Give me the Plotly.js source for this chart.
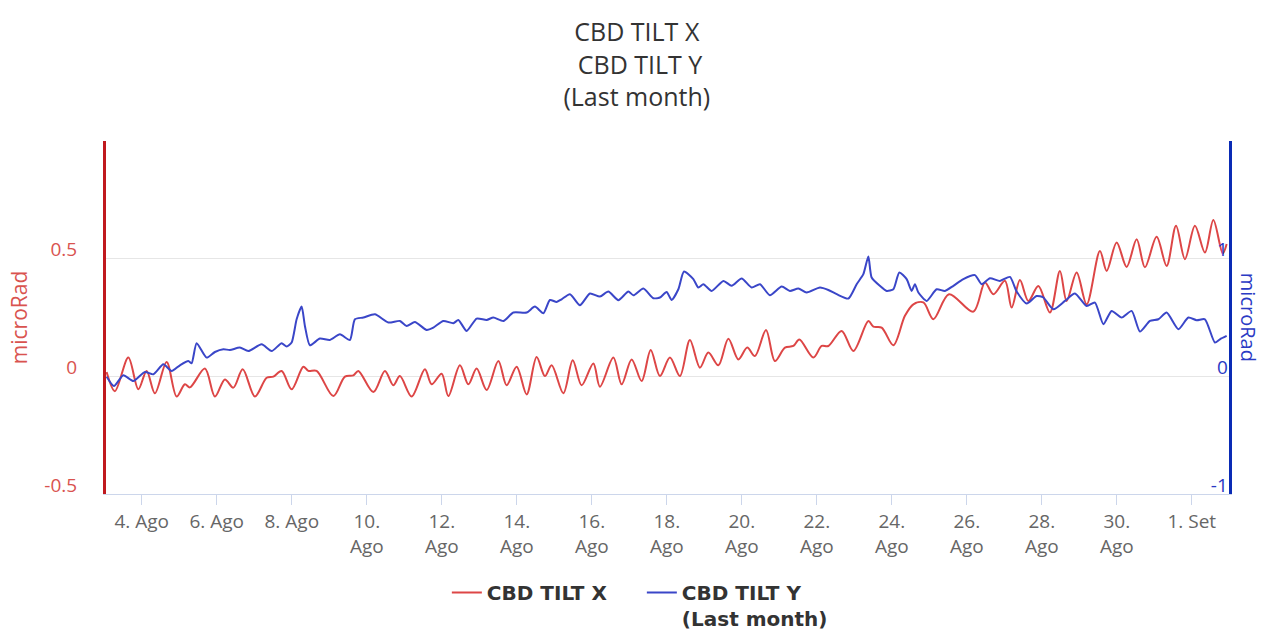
<!DOCTYPE html>
<html>
<head>
<meta charset="utf-8">
<script src="https://cdn.plot.ly/plotly-3.0.1.min.js"></script>
<style>html,body{margin:0;padding:0;background:#fff;}#chart{width:1261px;height:631px;}</style>
</head>
<body>
<div id="chart"></div>
<script>
// Time of each reading, hours after 3 Aug 00:00
const tiltXHours = [1.5,6.8,15.4,21.8,27.1,32.4,39.9,46.3,51.6,54.8,64.4,70.8,77.2,82.6,88.6,96.4,103.9,108.2,113.5,119.9,127.4,130.6,135.9,146.6,154.0,159.4,162.6,172.2,179.6,185.0,189.2,196.7,205.2,209.5,215.9,220.2,227.6,233.0,238.3,244.7,252.2,257.5,263.9,270.3,276.7,282.0,286.3,293.8,299.8,305.5,313.0,317.2,325.8,331.1,337.5,343.9,349.7,355.6,362.0,368.4,374.8,381.2,386.6,393.0,399.4,405.8,411.5,416.4,423.5,429.2,435.6,441.0,444.8,453.8,459.1,463.4,471.9,479.4,489.0,492.2,497.5,505.0,512.4,517.8,524.2,530.6,540.6,556.2,563.6,569.0,576.4,580.7,586.0,591.4,597.8,605.2,611.6,615.9,622.3,628.7,637.2,641.5,647.9,654.3,660.7,666.0,673.5,679.9,685.9,691.6,698.0,704.4,709.8,715.8,718.3];
const tiltXValues = [0.018,-0.063,0.080,-0.055,0.023,-0.072,0.061,-0.086,-0.034,-0.047,0.033,-0.086,-0.013,-0.048,0.030,-0.086,-0.006,-0.001,0.023,-0.055,0.041,0.023,0.023,-0.084,-0.001,0.004,0.023,-0.067,0.023,-0.038,0.001,-0.086,0.030,-0.034,0.011,-0.084,0.047,-0.034,0.033,-0.058,0.065,-0.038,0.041,-0.077,0.082,0.001,0.047,-0.072,0.068,-0.038,0.055,-0.044,0.080,-0.034,0.072,-0.020,0.112,0.001,0.080,0.001,0.154,0.037,0.101,0.047,0.160,0.072,0.122,0.086,0.197,0.065,0.122,0.129,0.157,0.080,0.129,0.129,0.193,0.108,0.235,0.211,0.207,0.132,0.257,0.306,0.314,0.243,0.349,0.275,0.399,0.349,0.406,0.292,0.409,0.320,0.384,0.271,0.448,0.320,0.441,0.306,0.533,0.448,0.569,0.465,0.583,0.463,0.593,0.469,0.640,0.498,0.640,0.526,0.664,0.522,0.562];

const tiltYHours = [1.5,6.2,12.2,18.6,26.0,31.4,37.8,43.1,48.4,53.8,55.9,59.1,65.5,70.8,76.2,80.4,86.8,92.2,100.7,107.1,113.5,116.7,119.9,123.1,126.3,128.4,131.6,138.0,144.4,150.8,157.2,160.4,165.8,173.2,181.8,189.2,193.5,198.8,206.3,210.6,217.0,223.4,226.6,231.9,238.3,244.7,249.0,255.4,261.8,270.3,275.6,281.0,285.2,289.5,292.7,298.0,304.4,310.8,317.2,322.6,329.0,335.4,338.6,345.0,351.4,355.6,359.9,363.1,367.4,371.0,377.0,380.2,383.4,388.7,396.2,401.5,407.9,414.3,419.6,426.0,433.5,438.8,444.2,449.5,458.0,463.4,468.7,476.2,481.5,485.8,489.0,491.1,496.4,500.7,505.0,508.8,513.5,516.7,518.8,521.0,526.3,532.7,538.0,543.4,549.8,557.2,561.5,566.8,573.2,579.6,583.9,590.3,596.7,601.0,607.4,614.8,621.2,628.7,634.0,639.4,644.7,651.1,657.5,662.8,669.2,674.6,679.9,687.4,693.8,699.1,704.4,710.8,714.0,718.3];
const tiltYValues = [-0.003,-0.083,0.009,-0.040,0.037,0.017,0.102,0.045,0.094,0.130,0.111,0.281,0.159,0.207,0.230,0.224,0.244,0.215,0.272,0.215,0.281,0.253,0.287,0.485,0.593,0.428,0.264,0.321,0.309,0.357,0.309,0.485,0.500,0.528,0.457,0.471,0.428,0.462,0.394,0.414,0.471,0.451,0.479,0.386,0.491,0.479,0.500,0.471,0.542,0.542,0.593,0.536,0.649,0.632,0.655,0.698,0.604,0.704,0.678,0.721,0.647,0.721,0.689,0.746,0.664,0.670,0.717,0.649,0.740,0.891,0.826,0.755,0.783,0.726,0.811,0.769,0.831,0.755,0.783,0.689,0.763,0.726,0.746,0.712,0.755,0.734,0.698,0.661,0.783,0.868,1.019,0.840,0.769,0.726,0.740,0.883,0.826,0.726,0.783,0.712,0.641,0.740,0.726,0.769,0.826,0.860,0.783,0.834,0.811,0.845,0.721,0.619,0.683,0.670,0.570,0.641,0.704,0.598,0.627,0.443,0.556,0.500,0.556,0.380,0.471,0.485,0.542,0.400,0.500,0.477,0.485,0.287,0.315,0.343];

const tickDates = ['2023-08-04','2023-08-06','2023-08-08','2023-08-10','2023-08-12','2023-08-14','2023-08-16','2023-08-18','2023-08-20','2023-08-22','2023-08-24','2023-08-26','2023-08-28','2023-08-30','2023-09-01'];
const tickLabels = ['4. Ago','6. Ago','8. Ago','10.<br>Ago','12.<br>Ago','14.<br>Ago','16.<br>Ago','18.<br>Ago','20.<br>Ago','22.<br>Ago','24.<br>Ago','26.<br>Ago','28.<br>Ago','30.<br>Ago','1. Set'];

const leftTicks = [-0.5, 0, 0.5, 1];
const leftTickText = ['-0.5', '0', '0.5', ''];
const rightTicks = [-1, 0, 1, 2];
const rightTickText = ['-1', '0', '1', ''];

const BASE = Date.UTC(2023, 7, 3);
const toTime = h => new Date(BASE + h * 3600000).toISOString().replace('T', ' ').slice(0, 19);

const FONT = '"Open Sans", Arial, sans-serif';

const traces = [
  {
    x: tiltXHours.map(toTime), y: tiltXValues, name: 'CBD TILT X',
    type: 'scatter', mode: 'lines', yaxis: 'y',
    line: {color: '#dd4646', width: 2, shape: 'spline', smoothing: 0.9}
  },
  {
    x: tiltYHours.map(toTime), y: tiltYValues, name: 'CBD TILT Y<br>(Last month)',
    type: 'scatter', mode: 'lines', yaxis: 'y2',
    line: {color: '#3a46c8', width: 2, shape: 'spline', smoothing: 0.6}
  }
];

const layout = {
  width: 1261, height: 631,
  margin: {l: 106, r: 32, t: 141, b: 137},
  paper_bgcolor: '#ffffff', plot_bgcolor: '#ffffff',
  font: {family: FONT, color: '#666666', size: 19},
  showlegend: true,
  title: {
    text: 'CBD TILT X<br> CBD TILT Y<br>(Last month)',
    font: {family: FONT, size: 25, color: '#333333'},
    xref: 'container', x: 0.505, xanchor: 'center',
    yref: 'container', y: 0.935, yanchor: 'top'
  },
  xaxis: {
    type: 'date',
    range: [toTime(1.1), toTime(719.8)],
    tickmode: 'array', tickvals: tickDates, ticktext: tickLabels,
    showgrid: false, zeroline: false,
    showline: true, linecolor: '#ccd6eb', linewidth: 1,
    ticks: 'outside', ticklen: 10, tickcolor: '#ccd6eb', tickwidth: 1,
    tickfont: {family: FONT, size: 19, color: '#666666'}
  },
  yaxis: {
    range: [-0.5, 1.0],
    tickmode: 'array', tickvals: leftTicks, ticktext: leftTickText,
    showgrid: true, gridcolor: '#e6e6e6', gridwidth: 1, zeroline: false,
    showline: true, linecolor: '#c0191e', linewidth: 3,
    ticks: '', ticklabelstandoff: 22, ticklabelshift: -9,
    tickfont: {family: FONT, size: 19, color: '#d9534f'},
    title: {text: 'microRad', font: {family: FONT, size: 21, color: '#d9534f'}, standoff: 12}
  },
  yaxis2: {
    range: [-1, 2], overlaying: 'y', side: 'right',
    tickmode: 'array', tickvals: rightTicks, ticktext: rightTickText,
    showgrid: false, zeroline: false,
    showline: true, linecolor: '#0a2bb5', linewidth: 3,
    ticks: '', ticklabelposition: 'inside', ticklabelshift: -9, ticklabelstandoff: 2,
    ticklabeloverflow: 'allow',
    tickfont: {family: FONT, size: 19, color: '#2a3ac4'}
  },
  annotations: [{
    text: 'microRad', textangle: 90, showarrow: false,
    xref: 'paper', yref: 'paper', x: 1.0175, y: 0.5, xanchor: 'center', yanchor: 'middle',
    font: {family: FONT, size: 20, color: '#2a3ac4'}
  }],
  legend: {
    orientation: 'h', xref: 'container', x: 0.509, xanchor: 'center',
    yref: 'container', y: 0.092, yanchor: 'top', valign: 'top',
    font: {family: '"DejaVu Sans", Verdana, sans-serif', size: 20, color: '#333333', weight: 'bold'},
    itemwidth: 30, entrywidth: 150, traceorder: 'normal'
  },
  hovermode: false
};

Plotly.newPlot('chart', traces, layout, {displayModeBar: false, staticPlot: true});
</script>
</body>
</html>
